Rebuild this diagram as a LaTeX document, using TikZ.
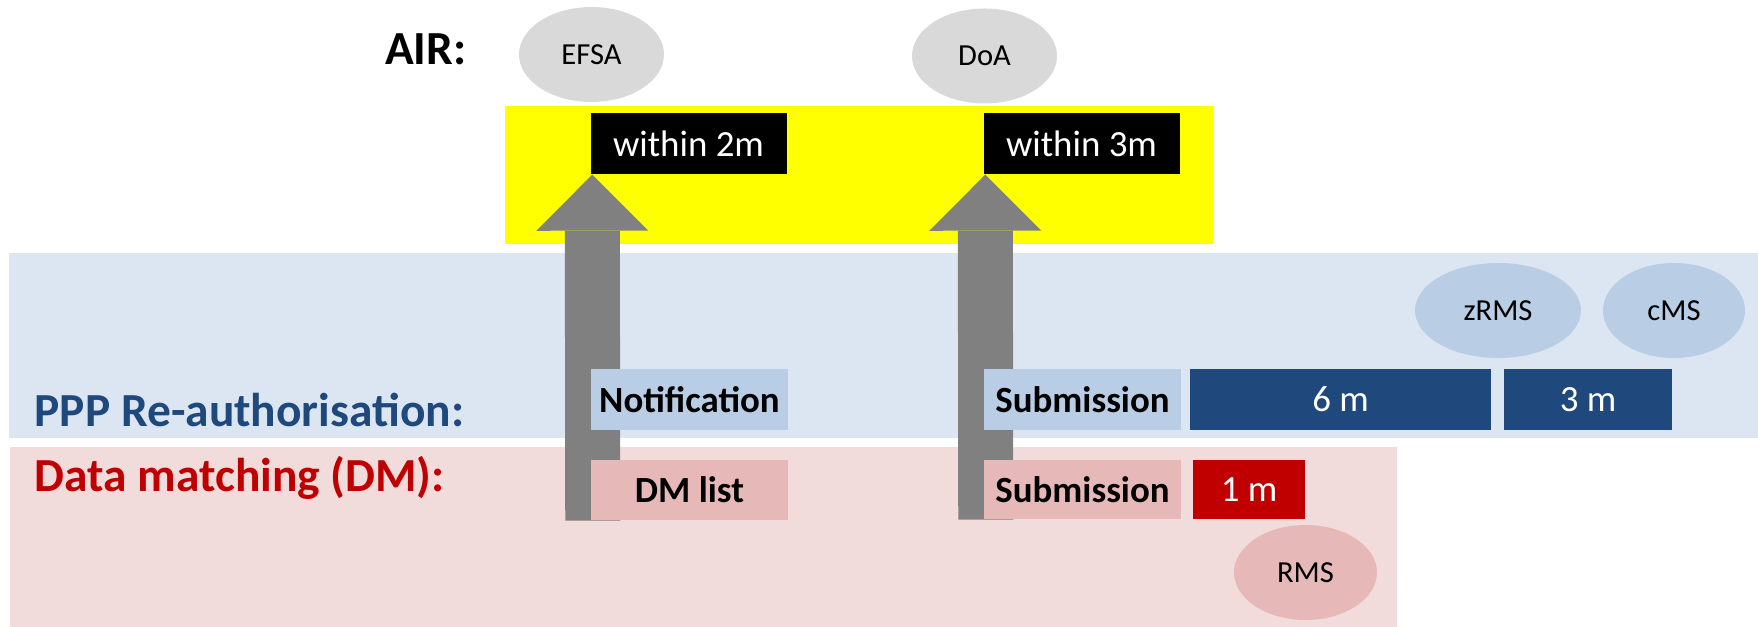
\documentclass[tikz,border=0pt]{standalone}
\usepackage{fontspec}
\setmainfont{Carlito}
\usetikzlibrary{arrows.meta, shapes.geometric}
\usepackage{xcolor}

\definecolor{pppblue}{HTML}{1F497D}
\definecolor{dmred}{HTML}{C00000}
\definecolor{bandblue}{HTML}{DCE6F2}
\definecolor{bandpink}{HTML}{F2DCDB}
\definecolor{bandyellow}{HTML}{FFFF00}
\definecolor{boxblue}{HTML}{B9CDE5}
\definecolor{boxpink}{HTML}{E6B9B8}
\definecolor{bodygray}{HTML}{D9D9D9}
\definecolor{arrowgray}{HTML}{808080}

\pgfdeclarelayer{back}
\pgfdeclarelayer{mid}
\pgfsetlayers{back,mid,main}

\begin{document}
\begin{tikzpicture}[
    lane/.style={fill=#1, inner sep=0},
    lanelabel/.style={anchor=base west, inner sep=0, text=#1, font=\fontsize{13.5}{16}\selectfont\bfseries},
    body/.style={ellipse, fill=#1, minimum width=1.45cm, minimum height=0.95cm, inner sep=0, font=\fontsize{8.7}{10}\selectfont},
    stepbox/.style={fill=#1, minimum width=1.97cm, minimum height=0.61cm, inner sep=0, font=\fontsize{10.5}{12}\selectfont\bfseries},
    period/.style={fill=#1, text=white, minimum width=1.96cm, minimum height=0.61cm, inner sep=0, font=\fontsize{10.5}{12}\selectfont},
    bigarrow/.style={draw=arrowgray, line width=0.55cm, -{Triangle[width=1.12cm, length=0.56cm, line width=0pt]}},
]
\useasboundingbox (0,0) rectangle (17.58,6.27);

% lanes
\begin{pgfonlayer}{back}
\node[lane=bandblue, minimum width=17.49cm, minimum height=1.85cm] (ppplane) at (8.835, 2.815) {};
\node[lane=bandpink, minimum width=13.87cm, minimum height=1.80cm] (dmlane) at (7.035, 0.90) {};
\node[lane=bandyellow, minimum width=7.08cm, minimum height=1.38cm] (airlane) at (8.59, 4.52) {};
\end{pgfonlayer}

% AIR
\node[lanelabel=black, anchor=base east] (air) at (4.67, 5.62) {AIR:};
\node[body=bodygray] (efsa) at (5.915, 5.725) {EFSA};
\node[body=bodygray] (doa) at (9.845, 5.71) {DoA};
\node[period=black] (win2) at (6.885, 4.835) {within 2m};
\node[period=black] (win3) at (10.815, 4.835) {within 3m};

% PPP re-authorisation
\node[lanelabel=pppblue] (ppp) at (0.34, 2.00) {PPP Re-authorisation:};
\node[stepbox=boxblue] (notif) at (6.895, 2.275) {Notification};
\node[stepbox=boxblue] (subppp) at (10.825, 2.275) {Submission};
\node[period=pppblue, minimum width=3.01cm] (sixm) at (13.405, 2.275) {6 m};
\node[period=pppblue, minimum width=1.68cm] (threem) at (15.88, 2.275) {3 m};
\node[body=boxblue, minimum width=1.66cm] (zrms) at (14.98, 3.165) {zRMS};
\node[body=boxblue, minimum width=1.42cm] (cms) at (16.74, 3.165) {cMS};

% data matching
\node[lanelabel=dmred] (dm) at (0.34, 1.35) {Data matching (DM):};
\node[stepbox=boxpink, minimum height=0.60cm] (dmlist) at (6.895, 1.37) {DM list};
\node[stepbox=boxpink, minimum height=0.59cm] (subdm) at (10.825, 1.375) {Submission};
\node[period=dmred, minimum width=1.12cm, minimum height=0.59cm] (onem) at (12.49, 1.375) {1 m};
\node[body=boxpink, minimum width=1.43cm] (rms) at (13.055, 0.545) {RMS};

\begin{pgfonlayer}{mid}
\draw[bigarrow] ([xshift=0.7pt]dmlist.south west) -- ([xshift=0.7pt]win2.south west);
\draw[bigarrow] ([xshift=0.7pt]subdm.south west) -- ([xshift=0.7pt]win3.south west);
\end{pgfonlayer}

\end{tikzpicture}
\end{document}
